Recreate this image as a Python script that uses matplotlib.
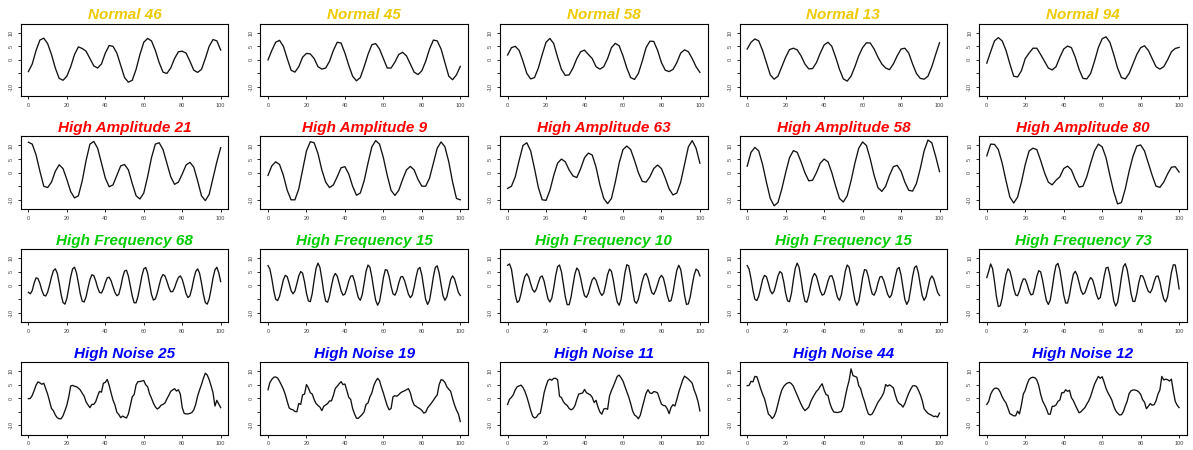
import numpy as np
import matplotlib
matplotlib.use("Agg")
import matplotlib.pyplot as plt

plt.rcParams["font.family"] = ["Liberation Sans", "DejaVu Sans"]

# sample positions: smooth series every 2 steps, fast/noisy ones every step
x_step2 = np.arange(0, 101, 2)
x_step1 = np.arange(0, 101)

# ---- Normal ----
normal_46 = [-4.3, -1.5, 3.5, 7.3, 8.0, 6.0, 2.0, -3.0, -6.8, -7.5,
             -6.0, -2.5, 2.0, 4.8, 4.2, 3.2, 0.5, -2.2, -3.0, -1.5,
             2.5, 5.3, 5.0, 2.5, -2.0, -6.5, -8.2, -7.5, -3.5, 2.0,
             6.5, 7.9, 7.0, 3.5, -1.0, -4.5, -5.0, -3.0, 0.5, 3.0,
             3.2, 2.5, -0.5, -3.8, -4.6, -3.5, 0.5, 5.0, 7.5, 7.0,
             3.6]
normal_45 = [0.0, 3.5, 6.5, 7.2, 5.0, 0.5, -3.8, -4.5, -2.5, 1.0,
             2.4, 2.2, 0.5, -2.5, -3.4, -3.0, -0.5, 3.5, 6.5, 6.2,
             2.5, -2.0, -6.0, -7.7, -6.5, -2.5, 2.0, 5.6, 6.0, 4.0,
             0.5, -3.0, -3.0, -0.8, 2.0, 2.8, 1.5, -1.5, -4.5, -5.4,
             -4.0, -0.5, 4.0, 7.3, 7.0, 4.0, -1.0, -6.0, -7.3, -5.5,
             -2.4]
normal_58 = [1.8, 4.5, 5.0, 3.5, -0.5, -5.0, -7.0, -6.5, -3.0, 2.0,
             6.5, 7.9, 6.0, 1.0, -3.5, -5.7, -5.5, -3.0, 0.5, 3.0,
             3.6, 2.0, 0.5, -2.5, -3.4, -2.5, 0.5, 4.5, 6.1, 5.2,
             1.5, -3.0, -6.5, -7.2, -5.0, -0.5, 4.5, 6.9, 6.8, 3.5,
             -1.0, -3.8, -4.3, -3.5, -1.0, 2.5, 3.7, 3.0, 0.5, -2.5,
             -4.6]
normal_13 = [4.0, 6.5, 7.7, 7.0, 3.5, -1.0, -5.5, -7.1, -6.0, -2.5,
             1.0, 3.8, 4.3, 3.7, 1.5, -1.5, -3.3, -3.2, -1.0, 2.5,
             5.5, 6.5, 5.0, 1.0, -3.5, -7.0, -7.8, -6.0, -2.5, 1.5,
             4.5, 6.3, 6.2, 4.0, 1.0, -1.5, -3.0, -3.6, -1.5, 1.5,
             4.0, 4.3, 2.5, -1.5, -5.0, -6.8, -7.1, -6.0, -2.5, 2.0,
             6.3]
normal_94 = [-1.2, 3.0, 7.0, 8.2, 7.0, 3.5, -1.5, -6.0, -6.3, -4.0,
             0.5, 2.5, 4.3, 4.3, 2.0, -0.5, -3.0, -3.7, -2.5, 1.0,
             4.0, 5.1, 4.5, 1.0, -3.5, -6.8, -7.0, -5.0, -0.5, 4.5,
             7.8, 8.5, 6.5, 2.0, -3.0, -6.5, -7.0, -5.0, -1.5, 2.0,
             4.5, 5.2, 3.5, 0.5, -2.5, -3.4, -2.5, 0.0, 3.0, 4.2,
             4.6]

# ---- High Amplitude ----
high_amp_21 = [11.2, 10.5, 6.5, 0.5, -5.0, -5.5, -3.5, 0.5, 2.9, 1.5,
               -2.5, -7.0, -9.3, -8.5, -3.0, 4.5, 10.5, 11.5, 9.0, 3.5,
               -2.0, -5.2, -4.5, -1.0, 2.5, 3.0, 1.0, -4.0, -8.5, -9.7,
               -7.5, -1.5, 5.5, 10.5, 11.0, 8.5, 3.5, -1.5, -4.3, -3.5,
               -0.5, 2.8, 3.8, 2.0, -3.0, -8.5, -10.3, -8.0, -2.0, 4.0,
               9.2]
high_amp_9 = [-1.0, 2.5, 4.0, 3.0, -1.0, -6.5, -10.0, -10.0, -6.0, 1.0,
              8.0, 11.4, 11.0, 7.0, 1.0, -3.5, -5.5, -4.5, -1.5, 1.8,
              2.2, -0.5, -5.0, -8.3, -7.5, -3.0, 3.5, 9.5, 11.8, 10.5,
              5.5, -1.0, -6.5, -8.4, -6.5, -2.5, 1.0, 2.3, 1.0, -2.5,
              -5.0, -5.0, -2.0, 3.5, 9.0, 11.3, 9.5, 4.0, -3.5, -9.5,
              -10.0]
high_amp_63 = [-5.8, -5.0, -1.5, 4.5, 10.0, 11.0, 8.0, 1.5, -5.5, -10.0,
               -10.2, -6.5, -1.0, 3.5, 5.0, 4.0, 1.0, -1.2, -1.8, 1.5,
               5.5, 7.2, 6.5, 2.0, -4.5, -9.5, -11.4, -9.5, -3.5, 3.5,
               8.5, 9.8, 8.5, 4.5, 0.0, -3.2, -3.5, -1.5, 1.5, 2.8,
               1.5, -2.0, -6.0, -8.2, -7.5, -3.5, 3.0, 9.5, 11.8, 9.0,
               3.5]
high_amp_58 = [2.4, 7.5, 9.3, 8.0, 3.0, -3.5, -9.5, -12.2, -11.0, -6.0,
               0.0, 5.5, 8.1, 7.5, 4.0, 0.0, -3.0, -2.8, 0.0, 3.5,
               5.0, 4.0, 0.0, -5.0, -9.5, -10.8, -8.5, -3.0, 3.5, 9.0,
               11.3, 10.0, 5.0, -1.0, -5.5, -6.9, -5.0, -1.0, 2.2, 2.7,
               0.5, -3.5, -6.5, -6.8, -4.0, 1.5, 8.0, 12.0, 11.0, 6.0,
               0.4]
high_amp_80 = [6.2, 10.5, 10.4, 8.5, 3.5, -3.0, -9.0, -11.2, -9.0, -3.5,
               3.0, 8.0, 9.0, 8.5, 4.5, 0.0, -3.5, -4.5, -2.8, -1.5,
               1.5, 2.4, 1.0, -2.5, -5.3, -5.0, -1.5, 3.5, 8.0, 10.5,
               9.5, 5.5, -1.0, -7.0, -11.5, -11.0, -6.0, 0.5, 6.0, 9.8,
               10.2, 8.0, 3.5, -1.0, -5.0, -5.4, -3.5, -0.5, 2.0, 2.2,
               0.2]

# ---- High Frequency ----
high_freq_68 = [-2.5, -3.1, -1.9, 0.9, 2.8, 2.5, 0.7, -1.8, -3.6, -3.9,
                -2.5, 0.1, 3.1, 5.4, 6.1, 4.5, 0.9, -3.3, -6.3, -6.9,
                -4.8, -0.9, 3.2, 6.1, 6.7, 4.6, 0.9, -3.2, -5.8, -6.1,
                -4.2, -0.9, 2.1, 3.9, 3.6, 1.7, -0.8, -2.6, -2.8, -1.3,
                1.0, 2.8, 3.0, 1.7, -0.5, -2.6, -3.8, -3.3, -0.6, 2.9,
                5.3, 5.6, 3.4, -0.2, -3.9, -6.4, -6.4, -4.0, -0.4, 3.4,
                6.1, 6.6, 4.5, 0.6, -3.3, -5.4, -5.0, -2.9, 0.0, 2.7,
                4.0, 3.5, 1.6, -0.7, -2.3, -2.3, -0.9, 1.2, 2.9, 3.5,
                2.2, -0.3, -3.1, -4.5, -3.8, -1.1, 2.4, 5.1, 6.1, 4.5,
                0.9, -3.3, -6.3, -6.9, -5.0, -1.4, 2.7, 5.7, 6.7, 4.6,
                1.4]
high_freq_15 = [7.3, 6.0, 2.4, -1.9, -5.1, -5.6, -4.0, -1.0, 2.1, 3.7,
                3.2, 0.8, -1.9, -3.1, -2.1, 0.6, 3.5, 5.1, 4.5, 1.3,
                -2.9, -5.7, -6.0, -3.0, 2.0, 6.3, 8.2, 6.6, 2.4, -2.5,
                -5.8, -6.2, -3.9, -0.2, 3.0, 4.4, 3.4, 0.8, -2.0, -3.6,
                -3.2, -1.1, 1.6, 3.4, 3.6, 1.6, -1.8, -4.5, -5.5, -3.4,
                0.8, 5.2, 7.5, 6.7, 3.1, -1.5, -5.5, -7.3, -5.9, -1.9,
                2.8, 5.8, 5.6, 3.2, -0.3, -3.1, -3.6, -2.0, 0.9, 3.1,
                3.3, 1.8, -0.7, -3.2, -4.5, -3.6, -0.6, 3.1, 6.0, 6.6,
                3.8, -0.8, -5.2, -7.0, -5.5, -1.4, 3.2, 6.6, 7.2, 4.6,
                0.3, -3.8, -5.5, -4.2, -1.0, 2.2, 3.5, 2.4, -0.1, -2.6,
                -3.7]
high_freq_10 = [7.4, 7.9, 6.0, 1.3, -3.5, -6.3, -5.7, -3.0, 0.6, 3.3,
                4.3, 3.1, 0.6, -1.6, -2.5, -1.3, 1.0, 3.0, 3.5, 1.5,
                -1.8, -4.9, -6.1, -4.7, -0.9, 3.6, 6.9, 7.5, 5.0, 0.5,
                -4.2, -7.1, -7.1, -4.3, 0.1, 4.2, 6.4, 5.5, 2.6, -1.0,
                -3.8, -4.4, -2.9, -0.2, 2.1, 2.9, 1.9, -0.3, -2.5, -3.7,
                -2.8, 0.4, 4.0, 6.0, 5.2, 1.8, -2.6, -6.1, -7.3, -5.2,
                -0.5, 4.6, 7.6, 7.2, 3.5, -1.6, -5.8, -6.6, -5.1, -2.0,
                1.4, 3.7, 4.4, 2.7, -0.2, -2.7, -3.3, -1.8, 0.4, 2.7,
                3.7, 2.7, -0.2, -3.6, -5.9, -5.6, -2.6, 1.7, 5.6, 7.4,
                5.9, 1.5, -3.6, -7.0, -6.8, -4.1, 0.1, 3.8, 6.0, 5.4,
                3.5]
high_freq_73 = [2.9, 5.2, 7.9, 6.2, 1.5, -4.1, -7.8, -7.5, -4.7, -0.1,
                4.0, 6.1, 5.3, 2.5, -1.1, -3.5, -3.8, -2.0, 0.6, 2.4,
                2.3, 0.4, -2.0, -3.5, -3.2, -0.4, 3.3, 5.4, 5.0, 1.9,
                -2.1, -5.6, -7.0, -5.4, -1.1, 3.8, 7.4, 8.1, 5.6, 1.1,
                -3.6, -6.5, -6.5, -3.6, 0.6, 4.1, 5.2, 3.8, 1.0, -1.9,
                -3.3, -2.7, -0.7, 1.6, 2.9, 2.1, -0.3, -3.3, -5.1, -4.5,
                -1.0, 3.3, 6.4, 6.7, 3.8, -1.0, -5.6, -7.6, -6.3, -2.1,
                3.0, 6.9, 8.0, 5.8, 1.6, -3.0, -5.9, -5.9, -3.1, 0.9,
                3.6, 3.5, 1.9, -0.4, -2.2, -2.7, -1.3, 1.3, 3.3, 3.5,
                1.3, -2.2, -5.0, -6.1, -4.2, 0.2, 4.8, 7.6, 7.5, 3.5,
                -1.3]

# ---- High Noise ----
high_noise_25 = [-0.2, -0.1, 1.0, 2.8, 4.8, 6.0, 5.6, 5.1, 5.5, 3.5,
                 1.5, -1.1, -3.8, -4.6, -6.2, -7.2, -7.6, -7.6, -6.5, -4.6,
                 -2.6, 0.5, 4.5, 4.7, 4.4, 4.2, 3.7, 3.0, 1.8, 0.7,
                 -1.4, -2.5, -3.5, -2.3, -2.3, -1.3, 0.8, 2.5, 2.2, 5.5,
                 5.8, 6.9, 4.7, 1.9, -0.7, -2.5, -5.2, -6.0, -7.2, -6.6,
                 -7.0, -7.3, -5.8, -2.7, 0.5, 1.3, 4.9, 6.1, 6.1, 6.3,
                 6.5, 4.9, 4.2, 1.6, 0.0, -1.8, -3.2, -4.0, -3.5, -2.6,
                 -2.3, -1.8, -0.3, 1.0, 2.5, 3.0, 3.5, 2.6, 3.1, 1.5,
                 -3.5, -5.6, -5.8, -5.8, -5.6, -5.3, -4.3, -2.3, 0.8, 3.0,
                 5.0, 7.3, 9.2, 8.5, 6.8, 4.5, 2.0, -2.9, -0.8, -2.2,
                 -3.5]
high_noise_19 = [3.1, 5.8, 6.9, 7.7, 7.8, 7.4, 6.2, 4.8, 3.3, 1.3,
                 -1.2, -3.6, -4.1, -4.3, -4.9, -5.0, -2.0, -2.3, 1.2, 1.5,
                 5.0, 3.8, 2.0, 1.5, -0.5, -2.0, -2.7, -3.3, -4.6, -3.0,
                 -2.5, -2.0, -1.0, -1.0, 1.0, 3.6, 4.4, 5.3, 6.1, 5.0,
                 5.2, 2.8, 0.3, -0.5, -3.8, -5.8, -7.4, -7.4, -6.7, -6.0,
                 -5.0, -2.3, -1.8, 0.5, 1.9, 4.6, 6.2, 7.3, 6.4, 4.0,
                 1.9, -0.5, -2.8, -4.3, -3.8, 0.5, 0.9, 0.7, 1.3, 2.0,
                 2.4, 2.7, 3.1, 3.5, 2.0, -0.8, -2.5, -3.0, -3.5, -3.9,
                 -4.5, -5.5, -5.2, -3.6, -2.7, -1.8, -0.8, 0.3, 1.2, 5.0,
                 6.8, 6.6, 5.8, 4.2, 3.3, 2.5, -0.2, -2.5, -4.4, -5.8,
                 -8.6]
high_noise_11 = [-2.3, -0.4, 0.3, 1.3, 3.1, 4.2, 4.5, 4.8, 3.9, 2.5,
                 0.5, -1.9, -4.5, -6.6, -7.3, -7.0, -5.9, -5.6, -2.0, 2.0,
                 4.5, 6.5, 7.0, 6.6, 7.3, 7.3, 6.8, 0.7, 0.2, -1.3,
                 -2.2, -2.7, -3.8, -4.3, -3.9, -2.8, -0.5, 1.5, 1.7, 1.9,
                 3.2, 2.0, 1.6, 1.2, 0.3, -1.6, -0.8, -3.3, -5.1, -5.9,
                 -4.0, -3.8, -4.1, 0.8, 2.8, 4.4, 6.2, 8.0, 8.5, 7.5,
                 6.3, 4.3, 2.3, 0.4, -2.0, -4.7, -6.2, -6.7, -7.6, -6.3,
                 -3.5, -0.8, 1.8, 3.1, 1.9, 1.7, 2.4, 2.3, 1.9, -0.2,
                 -2.2, -2.7, -2.8, -3.9, -5.7, -3.4, -2.4, -2.9, -0.5, 2.2,
                 4.4, 6.6, 8.1, 7.6, 7.0, 6.3, 5.5, 3.0, 1.2, -1.2,
                 -4.7]
high_noise_44 = [4.6, 4.7, 6.2, 6.0, 8.0, 7.9, 5.8, 3.5, 1.5, -0.2,
                 -2.9, -5.8, -6.5, -7.5, -6.7, -4.9, -2.1, 0.7, 3.0, 4.3,
                 5.1, 5.6, 5.8, 5.3, 4.4, 2.7, 1.1, -0.6, -2.2, -3.6,
                 -4.6, -4.0, -3.3, -1.4, 0.1, 1.3, 2.5, 3.2, 4.4, 5.3,
                 3.0, 1.3, 1.0, -1.9, -3.8, -5.1, -5.2, -5.3, -5.1, -4.9,
                 -3.2, 0.5, 3.8, 6.5, 10.8, 8.3, 8.0, 7.7, 4.6, 3.5,
                 0.8, -1.2, -3.8, -5.8, -6.2, -5.8, -4.5, -3.0, -1.5, -0.5,
                 0.6, 2.0, 5.0, 4.4, 4.9, 4.4, 3.8, 1.2, -1.0, -2.0,
                 -2.4, -3.3, -2.0, 0.0, 1.8, 3.3, 4.5, 4.6, 4.3, 3.0,
                 1.3, -0.8, -3.9, -4.8, -5.6, -6.0, -6.3, -6.8, -6.6, -7.0,
                 -5.5]
high_noise_12 = [-2.3, -1.2, 1.4, 2.8, 3.6, 3.7, 3.4, 2.2, 0.5, -0.8,
                 -1.8, -3.7, -5.7, -6.1, -6.5, -6.5, -4.8, -5.8, -2.5, 1.5,
                 2.9, 5.2, 6.9, 7.5, 7.7, 7.5, 6.7, 4.7, 1.4, -1.0,
                 -2.4, -3.9, -5.9, -5.9, -3.0, -3.0, -2.5, -1.2, -0.7, 2.0,
                 2.0, 3.1, 2.5, 2.9, 0.2, -0.9, -2.5, -4.0, -5.4, -5.0,
                 -4.2, -3.5, -2.2, -1.0, 0.7, 2.9, 5.1, 6.6, 8.0, 7.3,
                 7.9, 5.9, 3.6, 2.0, 0.7, -0.7, -2.9, -4.6, -5.5, -6.2,
                 -6.1, -5.0, -2.9, -1.1, 1.7, 2.7, 3.0, 3.0, 2.8, 2.3,
                 1.4, -0.5, -1.5, -3.9, -3.0, -2.0, -2.6, -2.4, -1.0, 1.5,
                 3.0, 8.0, 6.7, 7.0, 6.8, 6.3, 7.0, 2.5, -1.2, -2.6,
                 -3.5]

x_ticks = [0, 20, 40, 60, 80, 100]
y_ticks = [-10, -5, 0, 5, 10]
y_tick_labels = ["-10", "", "0", "5", "10"]

row_colors = ["#EEC900", "#FF0000", "#00CD00", "#0000FF"]
rows = [
    [("Normal 46", x_step2, normal_46), ("Normal 45", x_step2, normal_45),
     ("Normal 58", x_step2, normal_58), ("Normal 13", x_step2, normal_13),
     ("Normal 94", x_step2, normal_94)],
    [("High Amplitude 21", x_step2, high_amp_21), ("High Amplitude 9", x_step2, high_amp_9),
     ("High Amplitude 63", x_step2, high_amp_63), ("High Amplitude 58", x_step2, high_amp_58),
     ("High Amplitude 80", x_step2, high_amp_80)],
    [("High Frequency 68", x_step1, high_freq_68), ("High Frequency 15", x_step1, high_freq_15),
     ("High Frequency 10", x_step1, high_freq_10), ("High Frequency 15", x_step1, high_freq_15),
     ("High Frequency 73", x_step1, high_freq_73)],
    [("High Noise 25", x_step1, high_noise_25), ("High Noise 19", x_step1, high_noise_19),
     ("High Noise 11", x_step1, high_noise_11), ("High Noise 44", x_step1, high_noise_44),
     ("High Noise 12", x_step1, high_noise_12)],
]

W, H = 1193, 450
fig = plt.figure(figsize=(W / 100, H / 100), dpi=100)

# panel boxes in pixels
box_w, box_h = 207.7, 72.8
for i, row in enumerate(rows):
    top = 23.5 + 112.75 * i
    for j, (title, xs, ys) in enumerate(row):
        left = 20.7 + 239.6 * j
        ax = fig.add_axes([left / W, 1 - (top + box_h) / H, box_w / W, box_h / H])
        ax.plot(xs, ys, color="#111111", lw=0.95)
        ax.set_xlim(-4, 104)
        ax.set_ylim(-13.4, 13.4)
        ax.set_xticks(x_ticks)
        ax.set_xticklabels([str(t) for t in x_ticks])
        ax.set_yticks(y_ticks)
        ax.set_yticklabels(y_tick_labels, rotation=90, va="center")
        ax.tick_params(direction="out", length=2, width=0.6, labelsize=4,
                       labelcolor="#444444", pad=3)
        for sp in ax.spines.values():
            sp.set_linewidth(0.8)
        ax.set_title(title, color=row_colors[i], fontsize=11,
                     fontweight="bold", style="italic", pad=3)

fig.savefig("out.png", dpi=100)
